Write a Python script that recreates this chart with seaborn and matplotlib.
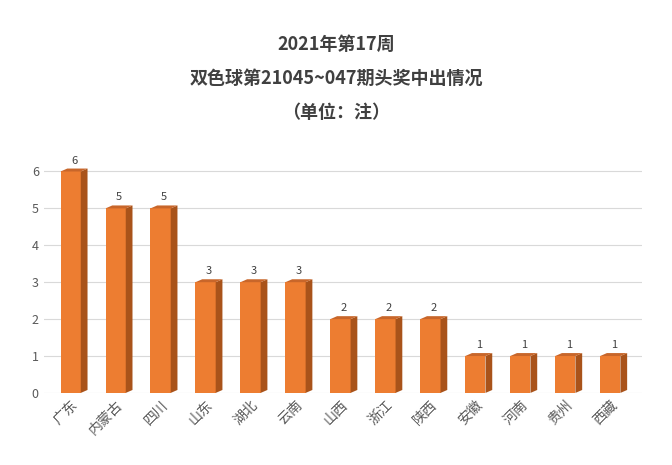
import matplotlib
matplotlib.use("Agg")
import matplotlib.pyplot as plt
import seaborn as sns
import pandas as pd
from matplotlib.patches import Polygon

plt.rcParams["font.family"] = ["Noto Sans CJK SC", "DejaVu Sans"]

provinces = ["广东", "内蒙古", "四川", "山东", "湖北", "云南", "山西", "浙江", "陕西", "安徽", "河南", "贵州", "西藏"]
counts = [6, 5, 5, 3, 3, 3, 2, 2, 2, 1, 1, 1, 1]
title = "2021年第17周\n双色球第21045~047期头奖中出情况\n（单位：注）"

df = pd.DataFrame({"province": provinces, "count": counts})
fig = plt.figure(figsize=(6.72, 4.65), dpi=100)
ax = fig.add_axes([0.065, 0.155, 0.89, 0.50])
sns.barplot(data=df, x="province", y="count", color="#ED7D31", width=0.45, ax=ax, zorder=3, saturation=1)

dx, dy = 0.15, 0.08
for p in ax.patches:
    x0, w, h = p.get_x(), p.get_width(), p.get_height()
    side = Polygon([(x0 + w, 0), (x0 + w + dx, dy), (x0 + w + dx, h + dy), (x0 + w, h)],
                   closed=True, fc="#A9531A", ec="none", zorder=3)
    top = Polygon([(x0, h), (x0 + dx, h + dy), (x0 + w + dx, h + dy), (x0 + w, h)],
                  closed=True, fc="#C8662A", ec="none", zorder=3)
    ax.add_patch(side); ax.add_patch(top)
    ax.text(x0 + w / 2 + dx / 2, h + dy + 0.08, f"{int(h)}", ha="center", va="bottom", fontsize=8, color="#404040")

ax.set_ylim(0, 6.3)
ax.set_xlim(-0.6, 12.7)
ax.set_yticks(range(7))
ax.grid(axis="y", color="#D9D9D9", lw=0.8, zorder=0)
for s in ax.spines.values():
    s.set_visible(False)
ax.tick_params(length=0, labelsize=9, colors="#595959")
ax.set_xlabel(""); ax.set_ylabel("")
plt.setp(ax.get_xticklabels(), rotation=45, ha="right", rotation_mode="anchor", fontsize=10)
fig.suptitle(title, y=0.925, fontsize=13, fontweight="bold", color="#404040", linespacing=2.0)
fig.savefig("out.png", dpi=100)
